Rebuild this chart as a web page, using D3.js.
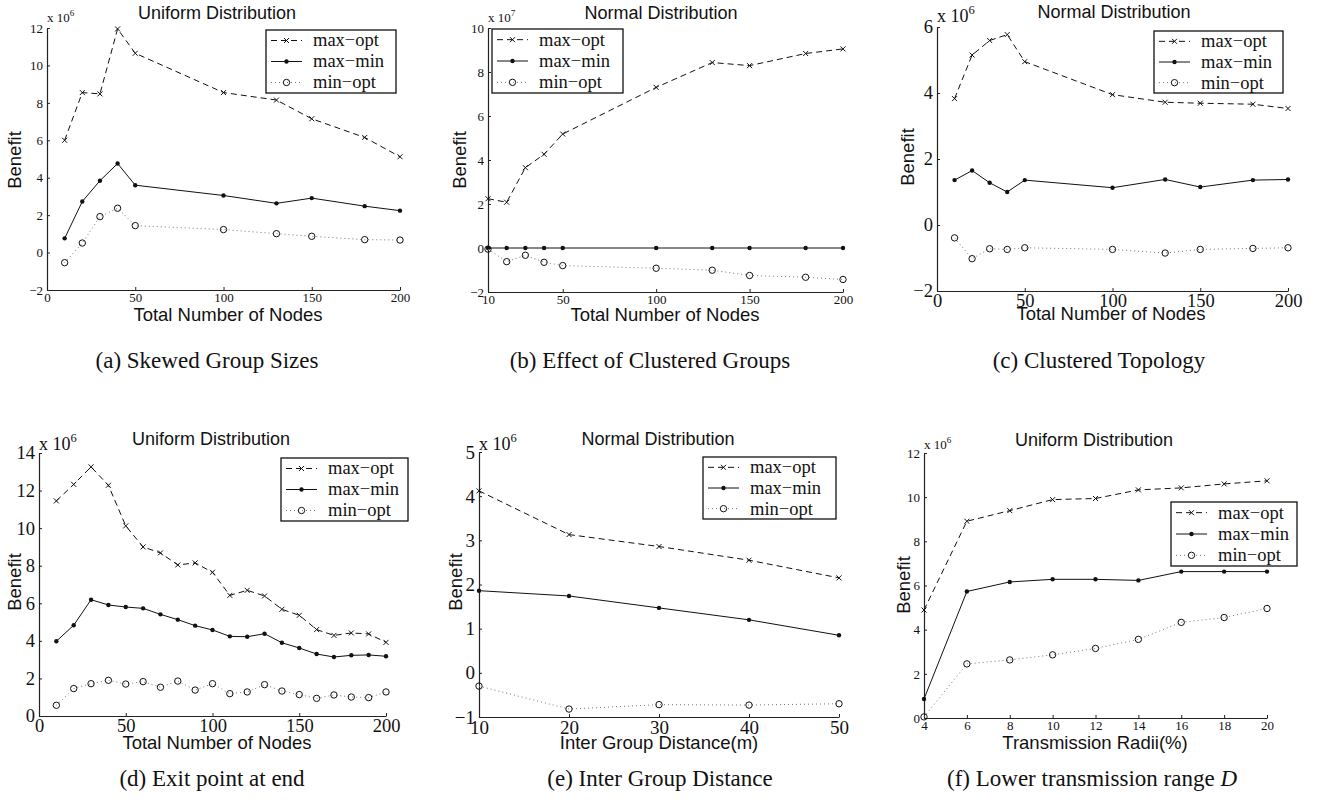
<!DOCTYPE html>
<html><head><meta charset="utf-8">
<script src="https://cdn.jsdelivr.net/npm/d3@7"></script>
<style>body{margin:0;background:#fff}svg{display:block}</style>
</head><body>
<svg id="c" width="1326" height="802"></svg>
<script>
// ---------- DATA ----------
const seriesNames = ["max\u2212opt", "max\u2212min", "min\u2212opt"];

const xNodesA = [10,20,30,40,50,100,130,150,180,200];
const aMaxOpt = [6.0,8.55,8.48,11.95,10.65,8.55,8.15,7.15,6.15,5.12];
const aMaxMin = [0.76,2.73,3.84,4.76,3.6,3.05,2.63,2.91,2.48,2.24];
const aMinOpt = [-0.54,0.51,1.92,2.37,1.44,1.23,1.01,0.87,0.69,0.67];

const xNodesB = [10,20,30,40,50,100,130,150,180,200];
const bMaxOpt = [2.24,2.08,3.65,4.26,5.18,7.3,8.43,8.29,8.84,9.05];
const bMaxMin = [0,0,0,0,0,0,0,0,0,0];
const bMinOpt = [-0.05,-0.62,-0.33,-0.65,-0.8,-0.92,-1.01,-1.25,-1.33,-1.43];

const xNodesC = [10,20,30,40,50,100,130,150,180,200];
const cMaxOpt = [3.83,5.15,5.59,5.77,4.95,3.95,3.72,3.69,3.66,3.53];
const cMaxMin = [1.36,1.65,1.28,1.0,1.36,1.13,1.38,1.15,1.36,1.38];
const cMinOpt = [-0.39,-1.02,-0.72,-0.74,-0.69,-0.74,-0.85,-0.74,-0.71,-0.69];

const xNodesD = [10,20,30,40,50,60,70,80,90,100,110,120,130,140,150,160,170,180,190,200];
const dMaxOpt = [11.45,12.33,13.26,12.28,10.12,9.0,8.68,8.04,8.15,7.65,6.42,6.69,6.39,5.68,5.36,4.6,4.29,4.42,4.37,3.92];
const dMaxMin = [3.98,4.83,6.19,5.91,5.8,5.73,5.41,5.13,4.81,4.58,4.24,4.22,4.38,3.9,3.62,3.3,3.14,3.23,3.25,3.18];
const dMinOpt = [0.57,1.46,1.72,1.9,1.7,1.83,1.53,1.86,1.38,1.72,1.19,1.28,1.67,1.33,1.14,0.94,1.12,1.01,0.98,1.28];

const xDistE = [10,20,30,40,50];
const eMaxOpt = [4.12,3.13,2.86,2.55,2.15];
const eMaxMin = [1.86,1.74,1.47,1.2,0.85];
const eMinOpt = [-0.3,-0.82,-0.72,-0.73,-0.7];

const xRadiiF = [4,6,8,10,12,14,16,18,20];
const fMaxOpt = [4.89,8.91,9.39,9.89,9.94,10.33,10.42,10.6,10.74];
const fMaxMin = [0.86,5.73,6.16,6.28,6.28,6.23,6.63,6.63,6.63];
const fMinOpt = [0.05,2.45,2.63,2.86,3.15,3.56,4.33,4.55,4.96];

const titles = ["Uniform Distribution","Normal Distribution","Normal Distribution","Uniform Distribution","Normal Distribution","Uniform Distribution"];
const xLabels = ["Total Number of Nodes","Total Number of Nodes","Total Number of Nodes","Total Number of Nodes","Inter Group Distance(m)","Transmission Radii(%)"];
const captions = ["(a) Skewed Group Sizes","(b) Effect of Clustered Groups","(c) Clustered Topology","(d) Exit point at end","(e) Inter Group Distance","(f) Lower transmission range "];
const exponents = ["6","7","6","6","6","6"];

const xTicksA = [0,50,100,150,200];
const xTicksB = [10,50,100,150,200];
const xTicksE = [10,20,30,40,50];
const xTicksF = [4,6,8,10,12,14,16,18,20];
const yTicksA = [-2,0,2,4,6,8,10,12];
const yTicksB = [-2,0,2,4,6,8,10];
const yTicksC = [-2,0,2,4,6];
const yTicksD = [0,2,4,6,8,10,12,14];
const yTicksE = [-1,0,1,2,3,4,5];
const yTicksF = [0,2,4,6,8,10,12];

// ---------- LAYOUT ----------
const panels = [
  {xs:xNodesA, ser:[aMaxOpt,aMaxMin,aMinOpt], xd:[0,200], yd:[-2,12], xt:xTicksA, yt:yTicksA,
   x0:47,x1:400,yTop:28,yBot:290, tfs:13, efs:13, expY:22, titleX:217, titleY:19, xlX:228, xlY:321, ylX:15, ylY:160,
   leg:[266,30,130,63], capX:207, capY:368},
  {xs:xNodesB, ser:[bMaxOpt,bMaxMin,bMinOpt], xd:[10,200], yd:[-2,10], xt:xTicksB, yt:yTicksB,
   x0:488,x1:843,yTop:28,yBot:292, tfs:13, efs:13, expY:22, titleX:661, titleY:19, xlX:665, xlY:321, ylX:460, ylY:160,
   leg:[492,29,131,64], capX:650, capY:368},
  {xs:xNodesC, ser:[cMaxOpt,cMaxMin,cMinOpt], xd:[0,200], yd:[-2,6], xt:xTicksA, yt:yTicksC,
   x0:937,x1:1288,yTop:27,yBot:291, tfs:18.5, efs:18, expY:22, titleX:1114, titleY:18, xlX:1111, xlY:320, ylX:908, ylY:157,
   leg:[1154,31,129,62], capX:1099, capY:368},
  {xs:xNodesD, ser:[dMaxOpt,dMaxMin,dMinOpt], xd:[0,200], yd:[0,14], xt:xTicksA, yt:yTicksD,
   x0:39,x1:386,yTop:453,yBot:716, tfs:18.5, efs:18, expY:450, titleX:211, titleY:445, xlX:217, xlY:749, ylX:15, ylY:582,
   leg:[281,458,127,63], capX:212, capY:786},
  {xs:xDistE, ser:[eMaxOpt,eMaxMin,eMinOpt], xd:[10,50], yd:[-1,5], xt:xTicksE, yt:yTicksE,
   x0:479,x1:839,yTop:452,yBot:717, tfs:19, efs:18, expY:450, titleX:658, titleY:445, xlX:659, xlY:749, ylX:456, ylY:582,
   leg:[703,457,133,62], capX:660, capY:786},
  {xs:xRadiiF, ser:[fMaxOpt,fMaxMin,fMinOpt], xd:[4,20], yd:[0,12], xt:xTicksF, yt:yTicksF,
   x0:924,x1:1267,yTop:453,yBot:718, tfs:13, efs:13, expY:449, titleX:1094, titleY:446, xlX:1095, xlY:749, ylX:904, ylY:585,
   leg:[1171,502,126,64], capX:1092, capY:786}
];

const styles = [
  {dash:"6,4", color:"#111", marker:"x"},
  {dash:null, color:"#111", marker:"dot"},
  {dash:"1,3", color:"#777", marker:"o"}
];

const svg = d3.select("#c");
const SERIF = "'Liberation Serif','Times New Roman',serif";
const SANS = "'Liberation Sans',Arial,Helvetica,sans-serif";

function marker(g, type, cx, cy) {
  if (type === "x") {
    g.append("path").attr("d", `M${cx-2.5},${cy-2.5}L${cx+2.5},${cy+2.5}M${cx-2.5},${cy+2.5}L${cx+2.5},${cy-2.5}`)
      .attr("stroke", "#111").attr("stroke-width", 1).attr("fill", "none");
  } else if (type === "dot") {
    g.append("circle").attr("cx", cx).attr("cy", cy).attr("r", 2.2).attr("fill", "#111");
  } else {
    g.append("circle").attr("cx", cx).attr("cy", cy).attr("r", 3.2).attr("fill", "none").attr("stroke", "#111").attr("stroke-width", 1);
  }
}

panels.forEach((p, idx) => {
  const g = svg.append("g");
  const x = d3.scaleLinear().domain(p.xd).range([p.x0, p.x1]);
  const y = d3.scaleLinear().domain(p.yd).range([p.yBot, p.yTop]);

  const ax = g.append("g").attr("transform", `translate(0,${p.yBot})`)
    .call(d3.axisBottom(x).tickValues(p.xt).tickSize(-3).tickSizeOuter(0).tickPadding(3).tickFormat(d3.format("d")));
  const ay = g.append("g").attr("transform", `translate(${p.x0},0)`)
    .call(d3.axisLeft(y).tickValues(p.yt).tickSize(-3).tickSizeOuter(0).tickPadding(4).tickFormat(d3.format("d")));
  [ax, ay].forEach(a => {
    a.attr("font-family", SERIF);
    a.selectAll("path.domain").attr("stroke", "#222").attr("stroke-width", 1.2);
    a.selectAll(".tick line").attr("stroke", "#222");
    a.selectAll("text").attr("font-family", SERIF).attr("font-size", p.tfs).attr("fill", "#111");
  });

  // series
  p.ser.forEach((vals, si) => {
    const st = styles[si];
    const line = d3.line().x((d, i) => x(p.xs[i])).y(d => y(d));
    g.append("path").datum(vals).attr("d", line).attr("fill", "none")
      .attr("stroke", st.color).attr("stroke-width", 1)
      .attr("stroke-dasharray", st.dash);
    const mg = g.append("g");
    vals.forEach((v, i) => marker(mg, st.marker, x(p.xs[i]), y(v)));
  });

  // exponent
  const et = g.append("text").attr("x", p.x0).attr("y", p.expY)
    .attr("font-family", SERIF).attr("font-size", p.efs).attr("fill", "#111").text("x 10");
  et.append("tspan").attr("dy", -p.efs * 0.45).attr("font-size", p.efs * 0.7).text(exponents[idx]);

  // title
  g.append("text").attr("x", p.titleX).attr("y", p.titleY).attr("text-anchor", "middle")
    .attr("font-family", SANS).attr("font-size", 18).attr("fill", "#111").text(titles[idx]);
  // x label
  g.append("text").attr("x", p.xlX).attr("y", p.xlY).attr("text-anchor", "middle")
    .attr("font-family", SANS).attr("font-size", 18.5).attr("fill", "#111").text(xLabels[idx]);
  // y label
  g.append("text").attr("transform", `translate(${p.ylX},${p.ylY}) rotate(-90)`).attr("dy", "0.35em")
    .attr("text-anchor", "middle").attr("font-family", SANS).attr("font-size", 18.5).attr("fill", "#111").text("Benefit");

  // legend
  const [lx, ly, lw, lh] = p.leg;
  const lg = g.append("g");
  lg.append("rect").attr("x", lx).attr("y", ly).attr("width", lw).attr("height", lh)
    .attr("fill", "#fff").attr("stroke", "#111").attr("stroke-width", 1.3);
  seriesNames.forEach((name, si) => {
    const st = styles[si];
    const ry = ly + lh * (2 * si + 1) / 6;
    lg.append("line").attr("x1", lx + 5).attr("x2", lx + 36).attr("y1", ry).attr("y2", ry)
      .attr("stroke", st.color).attr("stroke-width", 1).attr("stroke-dasharray", st.dash);
    marker(lg, st.marker, lx + 20.5, ry);
    lg.append("text").attr("x", lx + 47).attr("y", ry).attr("dy", "0.32em")
      .attr("font-family", SERIF).attr("font-size", 18.5).attr("fill", "#111").text(name);
  });

  // caption
  const ct = svg.append("text").attr("x", p.capX).attr("y", p.capY).attr("text-anchor", "middle")
    .attr("font-family", SERIF).attr("font-size", 23).attr("fill", "#111").text(captions[idx]);
  if (idx === 5) ct.append("tspan").attr("font-style", "italic").text("D");
});
</script>
</body></html>
